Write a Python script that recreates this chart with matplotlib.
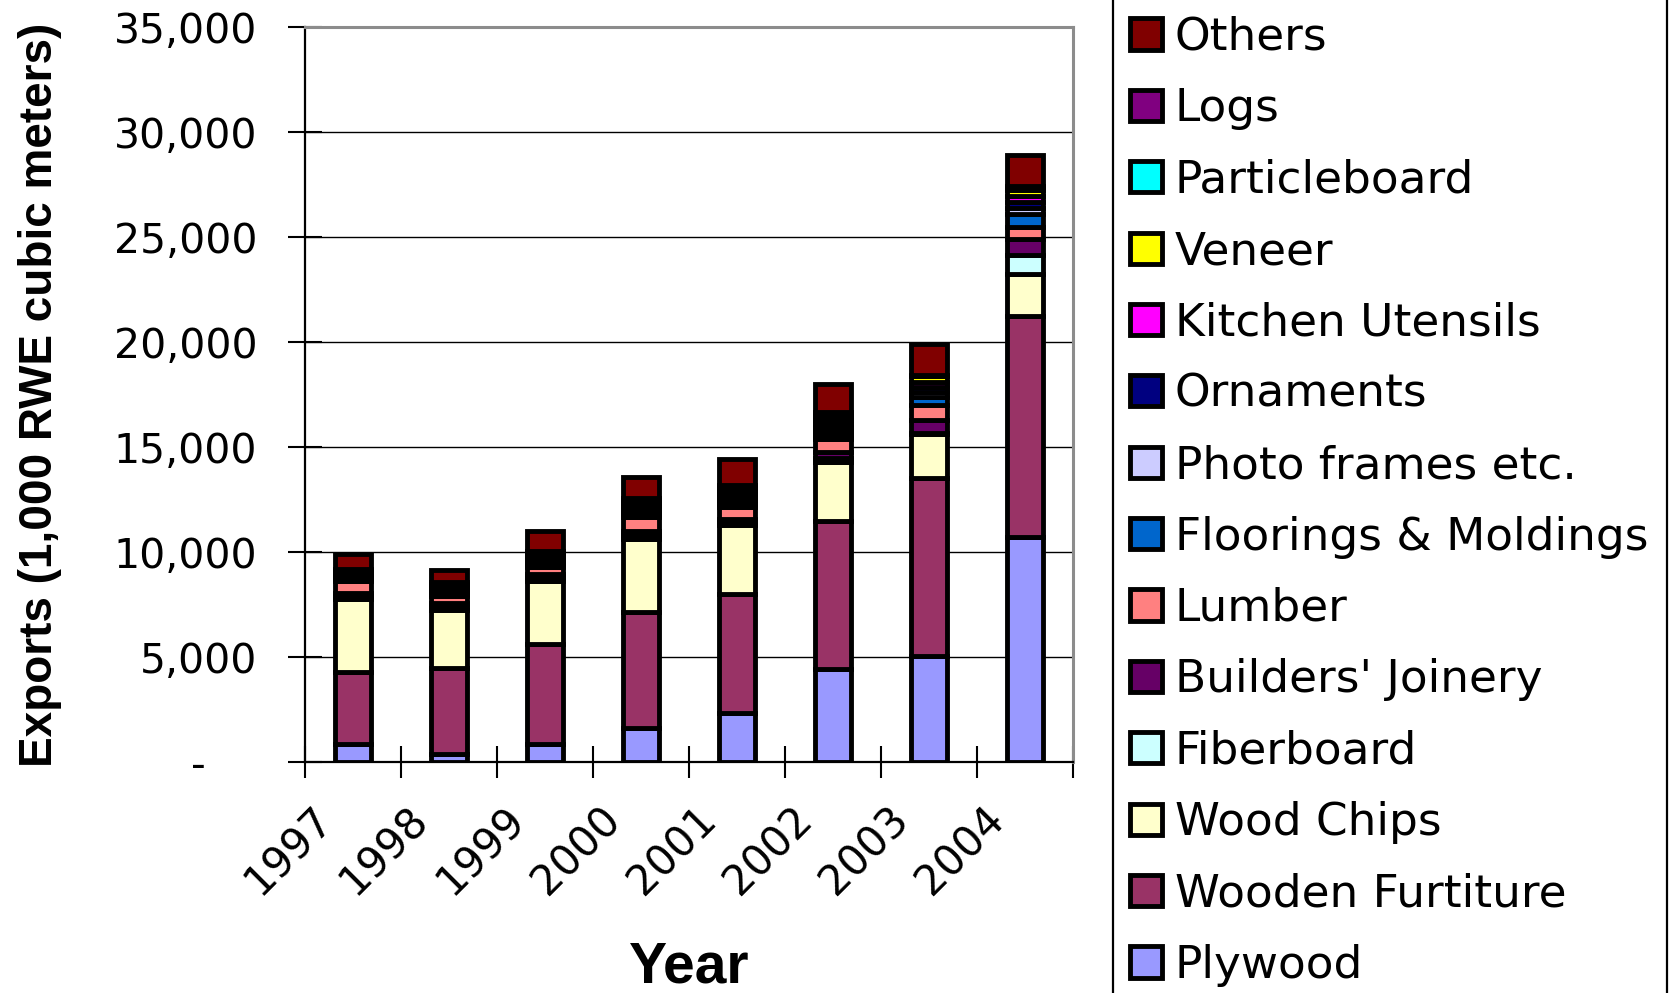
#!/usr/bin/env python3
"""Stacked bars of wood product exports by category, 1997-2004."""
import numpy as np
import matplotlib

matplotlib.use("Agg")
import matplotlib.pyplot as plt
from matplotlib.lines import Line2D
from matplotlib.transforms import ScaledTranslation

YEARS = ["1997", "1998", "1999", "2000", "2001", "2002", "2003", "2004"]

# exports, 1,000 RWE cubic meters (stack order, bottom first)
plywood = [870, 380, 870, 1600, 2350, 4420, 5030, 10700]
wooden_furniture = [3420, 4120, 4755, 5545, 5645, 7080, 8520, 10550]
wood_chips = [3465, 2760, 3015, 3500, 3290, 2800, 2090, 2020]
fiberboard = [150, 140, 150, 190, 130, 180, 40, 860]
builders_joinery = [170, 165, 170, 190, 160, 310, 600, 770]
lumber = [565, 340, 310, 635, 580, 590, 740, 610]
floorings = [90, 100, 120, 140, 160, 185, 380, 620]
photo_frames = [70, 90, 105, 125, 150, 190, 230, 280]
ornaments = [60, 85, 110, 130, 145, 185, 230, 280]
kitchen_utensils = [75, 95, 115, 135, 150, 180, 230, 270]
veneer = [85, 105, 125, 140, 160, 190, 300, 290]
particleboard = [80, 95, 110, 130, 145, 185, 30, 90]
logs = [105, 107, 120, 135, 155, 190, 30, 100]
others = [695, 580, 950, 965, 1225, 1335, 1450, 1460]

SERIES = [
    ("Plywood", plywood, "#9999FF"),
    ("Wooden Furtiture", wooden_furniture, "#993366"),
    ("Wood Chips", wood_chips, "#FFFFCC"),
    ("Fiberboard", fiberboard, "#CCFFFF"),
    ("Builders' Joinery", builders_joinery, "#660066"),
    ("Lumber", lumber, "#FF8080"),
    ("Floorings & Moldings", floorings, "#0066CC"),
    ("Photo frames etc.", photo_frames, "#CCCCFF"),
    ("Ornaments", ornaments, "#000080"),
    ("Kitchen Utensils", kitchen_utensils, "#FF00FF"),
    ("Veneer", veneer, "#FFFF00"),
    ("Particleboard", particleboard, "#00FFFF"),
    ("Logs", logs, "#800080"),
    ("Others", others, "#800000"),
]

EDGE = 3.5
BOLD = ["Liberation Sans", "DejaVu Sans"]


def main():
    plt.rcParams["font.family"] = "DejaVu Sans"
    fig = plt.figure(figsize=(16.69, 9.93), dpi=100)
    ax = fig.add_axes([0.1827, 0.2326, 0.4602, 0.7399])

    x = np.arange(len(YEARS))
    bottom = np.zeros(len(YEARS))
    handles, names = [], []
    for name, vals, color in SERIES:
        bars = ax.bar(x, vals, width=0.38, bottom=bottom, color=color,
                      edgecolor="black", linewidth=EDGE, zorder=3)
        bottom += np.array(vals)
        handles.append(bars)
        names.append(name)

    ax.set_xlim(-0.5, len(YEARS) - 0.5)
    ax.set_ylim(0, 35000)
    yt = np.arange(0, 35001, 5000)
    ax.set_yticks(yt)
    ax.set_yticklabels(["-    "] + [f"{v:,}" for v in yt[1:]])
    ax.yaxis.grid(True, color="black", lw=1.0, zorder=0)
    ax.set_axisbelow(True)

    # tick marks sit between categories, labels sit under the bars
    ax.set_xticks(np.arange(-0.5, len(YEARS), 1.0))
    ax.set_xticklabels([])
    ax.set_xticks(x, minor=True)
    ax.set_xticklabels(YEARS, minor=True, rotation=45, ha="right",
                       va="center", rotation_mode="anchor")
    ax.tick_params(axis="x", which="minor", length=0, pad=37, labelsize=30)
    ax.tick_params(axis="x", which="major", direction="inout", length=23,
                   width=1.5)
    ax.tick_params(axis="y", direction="inout", length=24.5, width=1.5,
                   pad=22, labelsize=29.5)
    shift = ScaledTranslation(-0.27, 0, fig.dpi_scale_trans)
    for lab in ax.get_xticklabels(minor=True):
        lab.set_transform(lab.get_transform() + shift)

    for side in ("top", "right"):
        ax.spines[side].set_color("#8c8c8c")
        ax.spines[side].set_linewidth(2.2)
    for side in ("left", "bottom"):
        ax.spines[side].set_color("black")
        ax.spines[side].set_linewidth(1.6)

    ax.set_ylabel("Exports (1,000 RWE cubic meters)", family=BOLD,
                  fontweight="bold", fontsize=33)
    ax.yaxis.set_label_coords(-0.316, 0.5)
    ax.set_xlabel("Year", family=BOLD, fontweight="bold", fontsize=41,
                  va="top")
    ax.xaxis.set_label_coords(0.5, -0.243)

    # legend panel, its frame runs past the figure edges
    for fx in (1112.5 / 1669, 1667 / 1669):
        fig.add_artist(Line2D([fx, fx], [0, 1], color="black", lw=1.6,
                              transform=fig.transFigure))
    fig.legend(handles[::-1], names[::-1], loc="upper left",
               bbox_to_anchor=(1130 / 1669, 0.984), frameon=False,
               fontsize=32.7, handlelength=0.7, handleheight=0.68,
               handletextpad=0.28, labelspacing=0.625, borderpad=0,
               borderaxespad=0)

    fig.savefig("out.png", dpi=100)


if __name__ == "__main__":
    main()
